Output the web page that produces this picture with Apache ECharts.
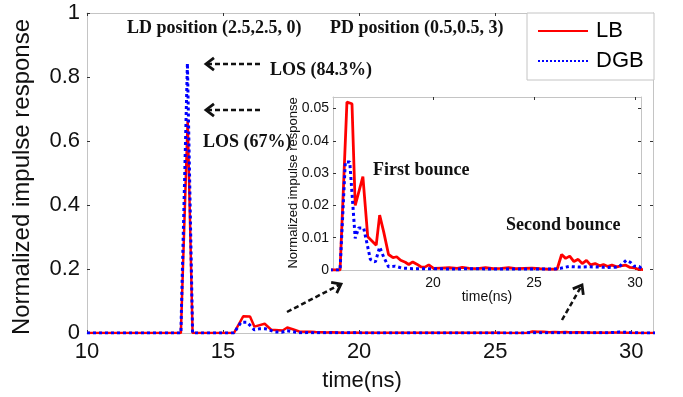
<!DOCTYPE html>
<html>
<head>
<meta charset="utf-8">
<script src="https://cdn.jsdelivr.net/npm/echarts@6/dist/echarts.min.js"></script>
<style>
    html, body { margin: 0; padding: 0; background: #fff; }
    #chart { width: 683px; height: 397px; }
</style>
</head>
<body>
<div id="chart"></div>
<script>
// values
const lbTime = [10, 13.45, 13.7, 13.88, 15.4, 15.74, 15.99, 16.15, 16.53, 16.77, 17.19, 17.36, 17.56, 17.8,
    18.02, 18.2, 18.4, 18.63, 18.8, 19.0, 19.2, 19.4, 19.6, 19.79, 20.03, 20.4, 20.8, 21.2, 21.45, 21.8,
    22.2, 22.6, 23.0, 23.4, 23.75, 24.1, 24.5, 24.9, 25.3, 25.7, 26.15, 26.37, 26.57, 26.77, 26.98, 27.19,
    27.39, 27.6, 27.8, 28.03, 28.25, 28.44, 28.66, 28.86, 29.1, 29.3, 29.55, 29.76, 29.97, 30.13, 30.3, 30.5, 31];
const lbValue = [0, 0, 0.667, 0, 0, 0.052, 0.0515, 0.020, 0.0289, 0.0103, 0.0077, 0.017, 0.0118, 0.0048,
    0.0038, 0.0041, 0.003, 0.0024, 0.0017, 0.0025, 0.0018, 0.001, 0.0009, 0.0016, 0.0005, 0.0006, 0.0007, 0.0005, 0.0008, 0.0005,
    0.0004, 0.0007, 0.0004, 0.0005, 0.0007, 0.0004, 0.0005, 0.0006, 0.0004, 0.0003, 0.0003, 0.0048, 0.0036, 0.0043, 0.0026, 0.0033,
    0.002, 0.003, 0.0016, 0.002, 0.0013, 0.0017, 0.0011, 0.0015, 0.001, 0.0013, 0.0015, 0.0008, 0.0007, 0.0003, 0.0002, 0, 0];

const dgbTime = [10, 13.45, 13.69, 13.88, 15.4, 15.66, 15.88, 16.15, 16.32, 16.57, 16.9, 17.15, 17.36, 17.56,
    17.8, 18.13, 18.46, 19.0, 20.0, 21.0, 22.0, 23.0, 24.0, 25.0, 26.0, 26.3, 26.73, 27.2, 27.7, 28.2,
    28.7, 29.2, 29.57, 29.77, 29.95, 30.2, 30.4, 31];
const dgbValue = [0, 0, 0.843, 0, 0, 0.0335, 0.0335, 0.0098, 0.013, 0.013, 0.0033, 0.0025, 0.0071, 0.004,
    0.001, 0.0012, 0.0006, 0.0004, 0.0004, 0.0003, 0.0004, 0.0003, 0.0003, 0.0003, 0.0003, 0.0005, 0.0011, 0.0009, 0.001, 0.0009,
    0.0008, 0.0009, 0.003, 0.0024, 0.0012, 0.0011, 0, 0];

const mainXTicks = [10, 15, 20, 25, 30];
const insetXTicks = [20, 25, 30];
const insetYTicks = [0, 0.01, 0.02, 0.03, 0.04, 0.05];

const SANS = '"Liberation Sans", Arial, sans-serif';
const SERIF = '"Liberation Serif", "Times New Roman", serif';
const AXIS_COLOR = '#c4c4c4';
const TICK_COLOR = '#333';
const RED = '#ff0000';
const BLUE = '#0000ff';

const pairs = (t, v) => t.map((x, i) => [x, v[i]]);

/** One side of an axes box: grey line, short inward ticks, optional labels */
const boxAxis = (gridIndex, position, min, max, ticks, label) => ({
    type: 'value',
    gridIndex,
    position,
    min,
    max,
    axisLine: { show: true, onZero: false, lineStyle: { color: AXIS_COLOR, width: 1 } },
    axisTick: { show: true, inside: true, length: 3, lineStyle: { color: TICK_COLOR }, customValues: ticks },
    axisLabel: label
        ? { customValues: ticks, fontFamily: SANS, color: '#111', ...label }
        : { show: false },
    splitLine: { show: false },
});

/** Dashed arrow drawn with plain graphic elements, head at (x2, y2) */
const arrow = (x1, y1, x2, y2) => {
    const a = Math.atan2(y2 - y1, x2 - x1);
    const len = 10;
    const spread = 0.65;
    const p1 = [x2 - len * Math.cos(a - spread), y2 - len * Math.sin(a - spread)];
    const p2 = [x2 - len * Math.cos(a + spread), y2 - len * Math.sin(a + spread)];
    return [
        {
            type: 'line',
            shape: { x1, y1, x2: x2 - 2 * Math.cos(a), y2: y2 - 2 * Math.sin(a) },
            style: { stroke: '#111', lineWidth: 2.5, lineDash: [5, 3] },
        },
        {
            type: 'polyline',
            shape: { points: [p1, [x2, y2], p2] },
            style: { stroke: '#111', lineWidth: 2.8, fill: null },
        },
    ];
};

const note = (text, x, y, size) => ({
    type: 'text',
    x,
    y,
    style: {
        text,
        font: `bold ${size}px ${SERIF}`,
        fill: '#111',
        align: 'left',
        verticalAlign: 'middle',
    },
});

const lineSeries = (name, data, color, type, width, xi, yi) => ({
    name,
    type: 'line',
    xAxisIndex: xi,
    yAxisIndex: yi,
    data,
    symbol: 'none',
    clip: true,
    lineStyle: { color, type, width },
    itemStyle: { color },
});

const chart = echarts.init(document.getElementById('chart'));
chart.setOption({
    animation: false,
    backgroundColor: '#fff',
    grid: [
        { left: 87, top: 13, right: 30, bottom: 64 },
        { left: 333, top: 97, right: 42, bottom: 127 },
    ],
    xAxis: [
        boxAxis(0, 'bottom', 10, 30.8, mainXTicks, { fontSize: 22, margin: 8 }),
        boxAxis(0, 'top', 10, 30.8, mainXTicks, null),
        boxAxis(1, 'bottom', 15.05, 30.3, insetXTicks, { fontSize: 14, margin: 6 }),
        boxAxis(1, 'top', 15.05, 30.3, insetXTicks, null),
    ],
    yAxis: [
        { ...boxAxis(0, 'left', 0, 1, null, { fontSize: 22, margin: 7 }), interval: 0.2 },
        { ...boxAxis(0, 'right', 0, 1, null, null), interval: 0.2 },
        boxAxis(1, 'left', 0, 0.0536, insetYTicks, { fontSize: 14, margin: 4 }),
        boxAxis(1, 'right', 0, 0.0536, insetYTicks, null),
    ],
    legend: {
        data: ['LB', 'DGB'],
        orient: 'vertical',
        left: 537,
        top: 20,
        padding: 0,
        itemWidth: 50,
        itemHeight: 2,
        itemGap: 8,
        z: 5,
        itemStyle: { opacity: 0 },
        textStyle: { fontFamily: SANS, fontSize: 22, lineHeight: 22, color: '#000', padding: [0, 0, 0, 3] },
    },
    series: [
        lineSeries('LB', pairs(lbTime, lbValue), RED, 'solid', 2.5, 0, 0),
        lineSeries('DGB', pairs(dgbTime, dgbValue), BLUE, 'dotted', 3, 0, 0),
        lineSeries('LB', pairs(lbTime, lbValue), RED, 'solid', 2.8, 2, 2),
        lineSeries('DGB', pairs(dgbTime, dgbValue), BLUE, 'dotted', 3, 2, 2),
    ],
    graphic: [
        {
            type: 'rect',
            z: 1,
            shape: { x: 527, y: 13, width: 127, height: 67 },
            style: { fill: '#fff', stroke: AXIS_COLOR, lineWidth: 1 },
        },
        {
            type: 'text',
            x: 22,
            y: 177,
            rotation: Math.PI / 2,
            style: { text: 'Normalized impulse response', font: `24px ${SANS}`, fill: '#111', align: 'center', verticalAlign: 'middle' },
        },
        {
            type: 'text',
            x: 362,
            y: 381,
            style: { text: 'time(ns)', font: `22px ${SANS}`, fill: '#111', align: 'center', verticalAlign: 'middle' },
        },
        {
            type: 'text',
            x: 293,
            y: 183,
            rotation: Math.PI / 2,
            style: { text: 'Normalized impulse response', font: `13px ${SANS}`, fill: '#111', align: 'center', verticalAlign: 'middle' },
        },
        {
            type: 'text',
            x: 487,
            y: 297,
            style: { text: 'time(ns)', font: `14px ${SANS}`, fill: '#111', align: 'center', verticalAlign: 'middle' },
        },
        note('LD position (2.5,2.5, 0)', 127, 28, 18),
        note('PD position (0.5,0.5, 3)', 330, 28, 18),
        note('LOS (84.3%)', 270, 70, 18),
        note('LOS (67%)', 203, 142, 18),
        note('First bounce', 373, 170, 18),
        note('Second bounce', 506, 225, 18),
        ...arrow(260, 64, 206, 64),
        ...arrow(260, 110, 206, 110),
        ...arrow(287, 312, 341, 284),
        ...arrow(562, 320, 582, 285),
    ],
});
</script>
</body>
</html>
